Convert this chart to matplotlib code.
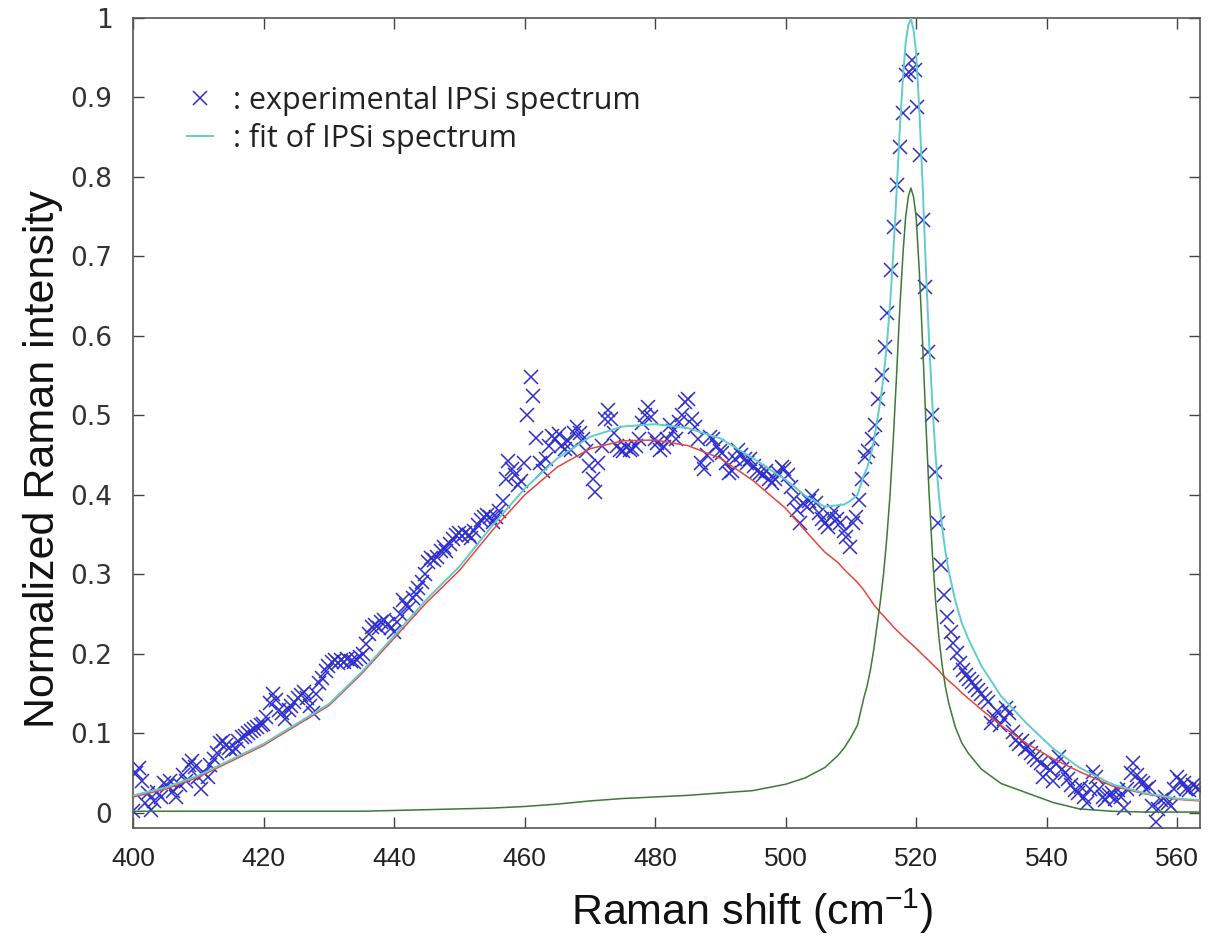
"""
Raman spectrum of IPSi with its two-component fit (broad band + c-Si peak).
"""
import matplotlib
matplotlib.use("Agg")
import matplotlib.pyplot as plt
from matplotlib.lines import Line2D


exp_shift = [
    400.0, 400.4, 400.9, 401.3, 401.8, 402.3, 402.7, 403.2, 403.7, 404.2,
    404.7, 405.2, 405.6, 406.1, 406.6, 407.1, 407.6, 408.0, 408.5, 409.0,
    409.5, 409.9, 410.4, 410.9, 411.4, 411.8, 412.3, 412.8, 413.3, 413.8,
    414.2, 414.7, 415.2, 415.7, 416.1, 416.6, 417.1, 417.6, 418.0, 418.5,
    419.0, 419.5, 419.9, 420.4, 420.9, 421.4, 421.8, 422.3, 422.8, 423.3,
    423.8, 424.2, 424.7, 425.2, 425.7, 426.1, 426.6, 427.1, 427.6, 428.0,
    428.5, 429.0, 429.5, 429.9, 430.4, 430.9, 431.4, 431.8, 432.3, 432.8,
    433.3, 433.8, 434.2, 434.7, 435.2, 435.7, 436.1, 436.6, 437.1, 437.6,
    438.0, 438.5, 439.0, 439.5, 439.9, 440.4, 440.9, 441.4, 441.8, 442.3,
    442.8, 443.3, 443.7, 444.2, 444.7, 445.2, 445.6, 446.1, 446.6, 447.1,
    447.6, 448.0, 448.5, 449.0, 449.5, 449.9, 450.4, 450.9, 451.4, 451.8,
    452.3, 452.8, 453.3, 453.7, 454.2, 454.7, 455.2, 455.6, 456.1, 456.6,
    457.1, 457.5, 458.0, 458.5, 459.0, 459.4, 459.9, 460.4, 460.9, 461.3,
    461.8, 462.3, 462.8, 463.2, 463.7, 464.2, 464.7, 465.2, 465.6, 466.1,
    466.6, 467.1, 467.5, 468.0, 468.5, 469.0, 469.4, 469.9, 470.4, 470.8,
    471.3, 471.8, 472.3, 472.7, 473.2, 473.7, 474.2, 474.6, 475.1, 475.6,
    476.1, 476.5, 477.0, 477.5, 478.0, 478.4, 478.9, 479.4, 479.9, 480.3,
    480.8, 481.3, 481.8, 482.2, 482.7, 483.2, 483.7, 484.1, 484.6, 485.1,
    485.6, 486.1, 486.5, 487.0, 487.5, 488.0, 488.4, 488.9, 489.4, 489.9,
    490.3, 490.8, 491.3, 491.8, 492.2, 492.7, 493.2, 493.7, 494.1, 494.6,
    495.1, 495.6, 496.0, 496.5, 497.0, 497.5, 497.9, 498.4, 498.9, 499.4,
    499.8, 500.3, 500.8, 501.3, 501.7, 502.2, 502.7, 503.2, 503.6, 504.1,
    504.6, 505.1, 505.5, 506.0, 506.5, 507.0, 507.4, 507.9, 508.4, 508.9,
    509.3, 509.8, 510.3, 510.8, 511.2, 511.7, 512.2, 512.7, 513.2, 513.7,
    514.2, 514.7, 515.2, 515.6, 516.1, 516.6, 517.1, 517.6, 518.0, 518.5,
    518.9, 519.3, 519.8, 520.2, 520.6, 521.1, 521.4, 521.8, 522.4, 522.9,
    523.4, 523.8, 524.3, 524.8, 525.3, 525.7, 526.2, 526.7, 527.2, 527.6,
    528.1, 528.6, 529.1, 529.5, 530.0, 530.5, 531.0, 531.5, 531.9, 532.4,
    532.9, 533.4, 533.8, 534.3, 534.8, 535.3, 535.7, 536.2, 536.7, 537.2,
    537.6, 538.1, 538.6, 539.1, 539.5, 540.0, 540.5, 541.0, 541.4, 541.9,
    542.4, 542.9, 543.3, 543.8, 544.3, 544.8, 545.2, 545.7, 546.2, 546.7,
    547.1, 547.6, 548.1, 548.6, 549.0, 549.5, 550.0, 550.5, 551.0, 551.4,
    551.9, 552.4, 552.9, 553.3, 553.8, 554.3, 554.8, 555.2, 555.7, 556.2,
    556.7, 557.1, 557.6, 558.1, 558.6, 559.0, 559.5, 560.0, 560.5, 561.0,
    561.4, 561.9, 562.4, 562.9, 563.3,
]
exp_intensity = [
    0.002, 0.050, 0.057, 0.040, 0.012, 0.025, 0.003, 0.015, 0.026, 0.020,
    0.038, 0.034, 0.040, 0.028, 0.020, 0.035, 0.048, 0.040, 0.060, 0.065,
    0.058, 0.045, 0.030, 0.050, 0.045, 0.060, 0.068, 0.075, 0.088, 0.090,
    0.085, 0.082, 0.078, 0.080, 0.090, 0.095, 0.097, 0.100, 0.103, 0.106,
    0.108, 0.110, 0.112, 0.120, 0.138, 0.150, 0.142, 0.130, 0.125, 0.118,
    0.130, 0.135, 0.140, 0.145, 0.148, 0.152, 0.145, 0.135, 0.126, 0.150,
    0.163, 0.170, 0.178, 0.185, 0.190, 0.192, 0.188, 0.192, 0.190, 0.193,
    0.191, 0.190, 0.193, 0.196, 0.200, 0.212, 0.225, 0.234, 0.236, 0.232,
    0.240, 0.243, 0.238, 0.232, 0.228, 0.240, 0.250, 0.268, 0.262, 0.258,
    0.270, 0.275, 0.283, 0.290, 0.300, 0.315, 0.320, 0.318, 0.322, 0.330,
    0.335, 0.330, 0.338, 0.345, 0.350, 0.352, 0.348, 0.352, 0.350, 0.346,
    0.355, 0.362, 0.368, 0.372, 0.375, 0.372, 0.366, 0.372, 0.380, 0.392,
    0.420, 0.443, 0.432, 0.425, 0.412, 0.418, 0.440, 0.500, 0.548, 0.524,
    0.472, 0.440, 0.430, 0.445, 0.462, 0.474, 0.470, 0.476, 0.462, 0.458,
    0.468, 0.457, 0.478, 0.486, 0.478, 0.470, 0.455, 0.436, 0.420, 0.404,
    0.440, 0.462, 0.495, 0.507, 0.495, 0.478, 0.462, 0.457, 0.455, 0.460,
    0.456, 0.458, 0.462, 0.470, 0.490, 0.500, 0.511, 0.498, 0.470, 0.465,
    0.457, 0.460, 0.470, 0.488, 0.480, 0.470, 0.492, 0.500, 0.517, 0.520,
    0.495, 0.486, 0.470, 0.440, 0.432, 0.450, 0.473, 0.470, 0.462, 0.455,
    0.453, 0.440, 0.428, 0.430, 0.445, 0.457, 0.450, 0.445, 0.440, 0.445,
    0.436, 0.430, 0.428, 0.425, 0.430, 0.420, 0.415, 0.420, 0.428, 0.435,
    0.432, 0.425, 0.410, 0.395, 0.381, 0.365, 0.390, 0.385, 0.392, 0.398,
    0.390, 0.377, 0.370, 0.365, 0.360, 0.372, 0.380, 0.370, 0.365, 0.355,
    0.347, 0.335, 0.365, 0.372, 0.394, 0.420, 0.448, 0.455, 0.470, 0.488,
    0.520, 0.551, 0.586, 0.629, 0.683, 0.737, 0.790, 0.838, 0.880, 0.928,
    0.932, 0.947, 0.935, 0.888, 0.828, 0.746, 0.662, 0.580, 0.500, 0.429,
    0.365, 0.312, 0.274, 0.247, 0.228, 0.214, 0.201, 0.189, 0.180, 0.174,
    0.168, 0.165, 0.160, 0.154, 0.150, 0.144, 0.140, 0.113, 0.120, 0.128,
    0.110, 0.118, 0.132, 0.126, 0.102, 0.092, 0.086, 0.090, 0.080, 0.083,
    0.075, 0.070, 0.066, 0.063, 0.045, 0.058, 0.054, 0.040, 0.062, 0.070,
    0.055, 0.050, 0.042, 0.035, 0.029, 0.025, 0.032, 0.020, 0.013, 0.030,
    0.052, 0.045, 0.030, 0.020, 0.016, 0.022, 0.025, 0.018, 0.029, 0.020,
    0.006, 0.030, 0.050, 0.063, 0.048, 0.040, 0.038, 0.030, 0.033, 0.008,
    -0.012, 0.005, 0.016, 0.020, 0.012, 0.008, 0.030, 0.045, 0.040, 0.038,
    0.030, 0.029, 0.035, 0.033, 0.030,
]

# fit curves sampled along the shift axis (denser around the c-Si line)
fit_shift = [
    400, 405, 410, 415, 420, 425, 430, 435, 440, 445,
    450, 455, 460, 465, 470, 475, 480, 485, 490, 495,
    500, 503, 506, 508, 509, 510, 511, 512, 512.5, 513,
    513.5, 514, 514.5, 515, 515.5, 516, 516.5, 517, 517.5, 518,
    518.4, 518.8, 519.2, 519.6, 520, 520.5, 521, 521.5, 522, 522.5,
    523, 523.5, 524, 524.5, 525, 526, 527, 528, 530, 533,
    537, 541, 545, 550, 555, 560, 563.5,
]
broad_band = [
    0.020, 0.030, 0.045, 0.065, 0.085, 0.110, 0.135, 0.175, 0.220, 0.265,
    0.305, 0.355, 0.400, 0.435, 0.458, 0.468, 0.469, 0.462, 0.446, 0.418,
    0.383, 0.355, 0.328, 0.315, 0.306, 0.298, 0.290, 0.280, 0.274, 0.268,
    0.262, 0.257, 0.252, 0.248, 0.243, 0.239, 0.234, 0.230, 0.226, 0.222,
    0.219, 0.216, 0.213, 0.210, 0.207, 0.203, 0.199, 0.195, 0.191, 0.187,
    0.183, 0.179, 0.174, 0.170, 0.166, 0.159, 0.151, 0.144, 0.130, 0.110,
    0.087, 0.068, 0.052, 0.034, 0.024, 0.017, 0.015,
]
si_peak = [
    0.002, 0.002, 0.002, 0.002, 0.002, 0.002, 0.002, 0.002, 0.003, 0.004,
    0.005, 0.006, 0.008, 0.011, 0.015, 0.018, 0.020, 0.022, 0.025, 0.028,
    0.036, 0.044, 0.057, 0.072, 0.082, 0.095, 0.110, 0.145, 0.160, 0.180,
    0.205, 0.235, 0.265, 0.300, 0.345, 0.400, 0.470, 0.550, 0.635, 0.705,
    0.750, 0.775, 0.786, 0.775, 0.750, 0.680, 0.590, 0.490, 0.400, 0.325,
    0.265, 0.220, 0.185, 0.158, 0.138, 0.108, 0.088, 0.075, 0.055, 0.037,
    0.025, 0.013, 0.005, 0.002, 0.001, 0.001, 0.001,
]
total_fit = [
    0.022, 0.032, 0.047, 0.067, 0.087, 0.112, 0.137, 0.177, 0.223, 0.269,
    0.310, 0.361, 0.408, 0.446, 0.473, 0.486, 0.489, 0.484, 0.471, 0.446,
    0.419, 0.399, 0.385, 0.387, 0.388, 0.393, 0.400, 0.425, 0.434, 0.448,
    0.467, 0.492, 0.517, 0.548, 0.588, 0.639, 0.704, 0.780, 0.861, 0.927,
    0.969, 0.991, 0.999, 0.985, 0.957, 0.883, 0.789, 0.685, 0.591, 0.512,
    0.448, 0.399, 0.359, 0.328, 0.304, 0.267, 0.239, 0.219, 0.185, 0.147,
    0.112, 0.081, 0.057, 0.036, 0.025, 0.018, 0.016,
]

x_ticks = [400, 420, 440, 460, 480, 500, 520, 540, 560]
y_ticks = [0, 0.1, 0.2, 0.3, 0.4, 0.5, 0.6, 0.7, 0.8, 0.9, 1]
y_tick_labels = ["0", "0.1", "0.2", "0.3", "0.4", "0.5", "0.6", "0.7", "0.8", "0.9", "1"]

MARKER_BLUE = "#2e2ecc"
FIT_CYAN = "#62cccc"


def main():
    plt.rcParams["font.family"] = ["Liberation Sans", "DejaVu Sans"]
    plt.rcParams["mathtext.default"] = "regular"

    fig = plt.figure(figsize=(12.12, 9.43), dpi=100)
    ax = fig.add_axes([0.110, 0.122, 0.880, 0.859])

    ax.plot(exp_shift, exp_intensity, linestyle="none", marker="x",
            markersize=10, markeredgewidth=1.1, color=MARKER_BLUE, zorder=2)
    ax.plot(fit_shift, broad_band, color="#e8453c", lw=1.1, zorder=3)
    ax.plot(fit_shift, si_peak, color="#3c7a34", lw=1.1, zorder=3)
    ax.plot(fit_shift, total_fit, color=FIT_CYAN, lw=1.4, zorder=4)

    ax.set_xlim(400, 563.5)
    ax.set_ylim(-0.019, 1.0)
    ax.set_xticks(x_ticks)
    ax.set_yticks(y_ticks)
    ax.set_yticklabels(y_tick_labels)
    ax.tick_params(direction="in", length=8, width=1.0, top=True, right=True,
                   colors="#444444")
    ax.tick_params(axis="x", labelsize=19, labelcolor="#222222", pad=14)
    ax.tick_params(axis="y", labelsize=19, labelcolor="#333333", pad=15)
    for lab in ax.get_yticklabels():
        lab.set_family("DejaVu Sans")
    for spine in ax.spines.values():
        spine.set_color("#555555")
        spine.set_linewidth(1.2)

    ax.set_xlabel("Raman shift (cm$^{-1}$)", fontsize=31, color="#111111")
    ax.xaxis.set_label_coords(0.58, -0.072)
    ax.set_ylabel("Normalized Raman intensity", fontsize=31, color="#111111")
    ax.yaxis.set_label_coords(-0.066, 0.455)

    handles = [
        Line2D([], [], linestyle="none", marker="x", markersize=10,
               markeredgewidth=1.1, color=MARKER_BLUE),
        Line2D([], [], color=FIT_CYAN, lw=1.4),
    ]
    ax.legend(handles, [": experimental IPSi spectrum", ": fit of IPSi spectrum"],
              loc="upper left", bbox_to_anchor=(0.0505, 0.916), frameon=False,
              prop={"family": ["Open Sans", "DejaVu Sans"], "size": 22},
              handlelength=0.85, handletextpad=0.65, borderpad=0, borderaxespad=0,
              labelspacing=0.22, labelcolor="#222222")

    fig.savefig("out.png", dpi=100)


if __name__ == "__main__":
    main()
